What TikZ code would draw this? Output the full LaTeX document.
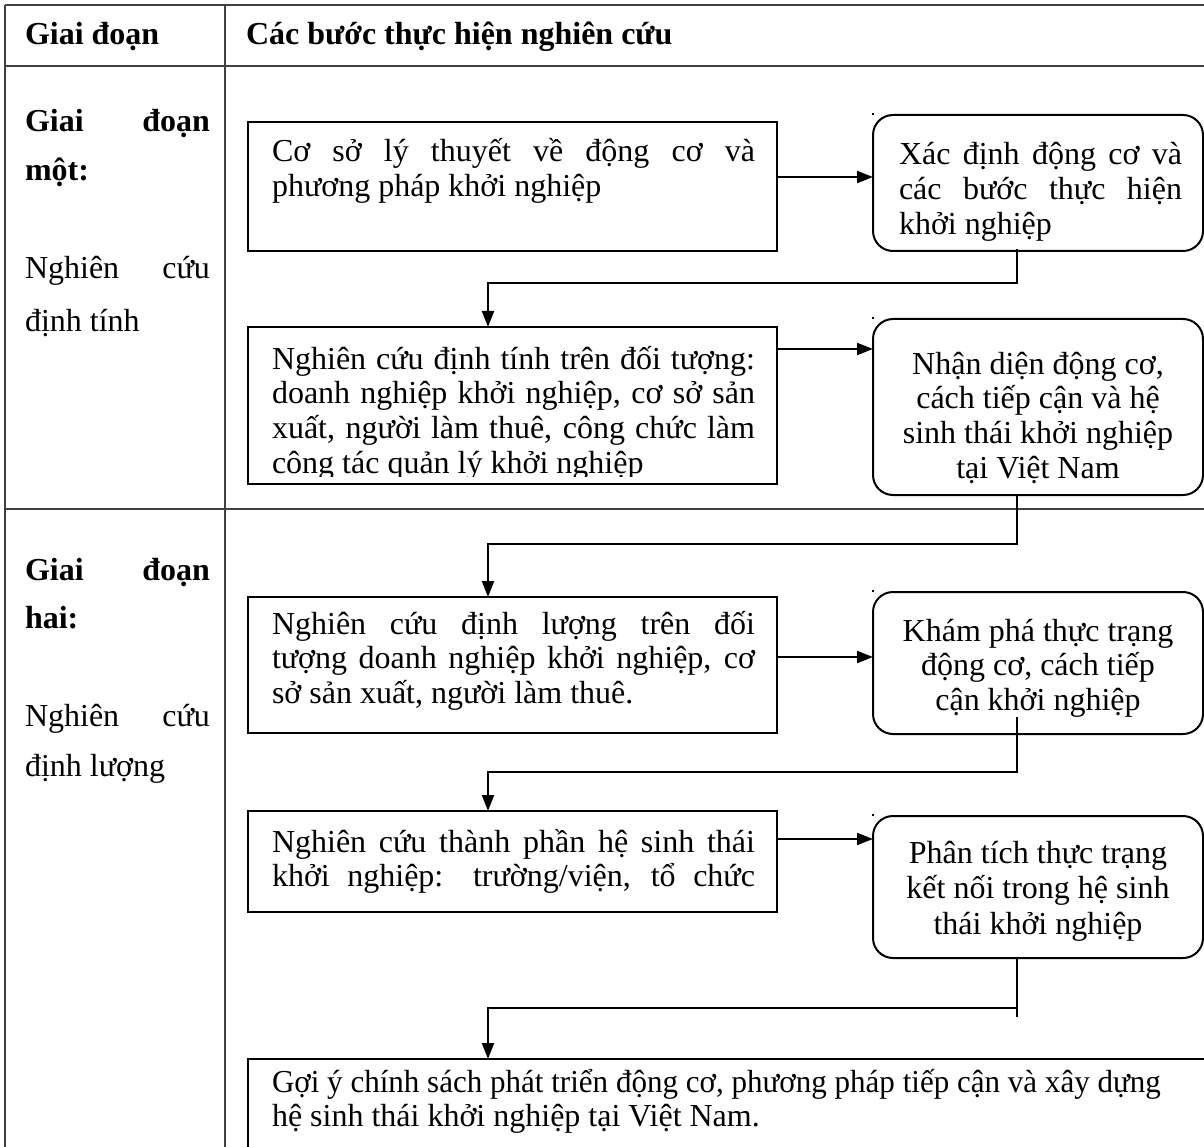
\documentclass[tikz,border=0pt]{standalone}
\usepackage{fontspec}
\usepackage{graphicx}
\setmainfont{Liberation Serif}
\usetikzlibrary{arrows.meta,calc}
% natural inter-word space of the text face
\newcommand\wsp{\spaceskip=8pt plus 4pt minus 2pt\relax\xspaceskip=0pt\relax}
% one justified line of a given width
\newcommand\jline[2]{{\spaceskip=8pt plus 80pt minus 2pt\relax\makebox[#1][s]{#2}}}
\begin{document}
\begin{tikzpicture}[x=1pt,y=-1pt,
  font=\fontsize{32}{34.8}\selectfont,
  grid/.style={line width=1.3pt, draw=black!75},
  box/.style={draw, line width=2pt, inner sep=0pt, outer sep=0pt, anchor=north west},
  rbox/.style={box, rounded corners=20pt},
  txt/.style={inner sep=0pt, outer sep=0pt, anchor=base west},
  ctxt/.style={inner sep=0pt, outer sep=0pt, anchor=base, text width=320pt},
  conn/.style={line width=2pt, -{Triangle[length=16pt,width=12pt]}},
  wire/.style={line width=2pt}]
\useasboundingbox (0,0) rectangle (1204,1147);
\clip (0,0) rectangle (1204,1147);
\fill[white] (0,0) rectangle (1204,1147);

% table frame
\draw[grid] (5,5) -- (1210,5);
\draw[grid] (5,66) -- (1210,66);
\draw[grid] (5,509) -- (1210,509);
\draw[grid] (5,5) -- (5,1160);
\draw[grid] (225,5) -- (225,1160);

% header
\node[txt] (hstage) at (25,45) {\wsp\bfseries Giai đoạn};
\node[txt] (hsteps) at (246,45) {\wsp\bfseries Các bước thực hiện nghiên cứu};

% stage labels
\node[txt, text width=185pt] (s1) at (25,132) {\wsp\jline{185pt}{\bfseries Giai đoạn}\\[14pt]\bfseries một:};
\node[txt, text width=185pt] (s1m) at (25,279) {\wsp\jline{185pt}{Nghiên cứu}\\[18pt]định tính};
\node[txt, text width=185pt] (s2) at (25,580) {\wsp\jline{185pt}{\bfseries Giai đoạn}\\[14pt]\bfseries hai:};
\node[txt, text width=185pt] (s2m) at (25,726) {\wsp\jline{185pt}{Nghiên cứu}\\[16pt]định lượng};

% flow boxes
\node[box, minimum width=529pt, minimum height=129pt] (A) at (248,122) {};
\node[rbox, minimum width=330pt, minimum height=136pt] (B) at (873,115) {};
\node[box, minimum width=529pt, minimum height=157pt] (C) at (248,327) {};
\node[rbox, minimum width=330pt, minimum height=176pt] (D) at (873,319) {};
\node[box, minimum width=529pt, minimum height=136pt] (E) at (248,597) {};
\node[rbox, minimum width=330pt, minimum height=142pt] (F) at (873,592) {};
\node[box, minimum width=529pt, minimum height=101pt] (G) at (248,811) {};
\node[rbox, minimum width=330pt, minimum height=142pt] (H) at (873,816) {};
\node[box, minimum width=980pt, minimum height=120pt] (I) at (248,1059) {};

% small marks at the corners of the rounded boxes
\foreach \yy in {115,319,592,816} \fill (872,\yy-2) rectangle ++(2,2);

% box texts
\node[txt, text width=483pt] (At) at (272,162)
  {\wsp\jline{483pt}{Cơ sở lý thuyết về động cơ và}\\phương pháp khởi nghiệp};
\node[txt, text width=283pt] (Bt) at (899,165)
  {\wsp\jline{283pt}{Xác định động cơ và}\\\jline{283pt}{các bước thực hiện}\\khởi nghiệp};
\begin{scope}
  \clip (250,329) rectangle (775,476);
  \node[txt, text width=483pt] (Ct) at (272,369)
    {\wsp\jline{483pt}{Nghiên cứu định tính trên đối tượng:}\\
     \jline{483pt}{doanh nghiệp khởi nghiệp, cơ sở sản}\\
     \jline{483pt}{xuất, người làm thuê, công chức làm}\\
     công tác quản lý khởi nghiệp};
\end{scope}
\node[ctxt] (Dt) at (1038,374)
  {\wsp\centering Nhận diện động cơ,\\cách tiếp cận và hệ\\sinh thái khởi nghiệp\\tại Việt Nam\par};
\node[txt, text width=483pt] (Et) at (272,634)
  {\wsp\jline{483pt}{Nghiên cứu định lượng trên đối}\\
   \jline{483pt}{tượng doanh nghiệp khởi nghiệp, cơ}\\
   sở sản xuất, người làm thuê.};
\node[ctxt] (Ft) at (1038,641)
  {\wsp\centering Khám phá thực trạng\\động cơ, cách tiếp\\cận khởi nghiệp\par};
\node[txt, text width=483pt] (Gt) at (272,852)
  {\wsp\jline{483pt}{Nghiên cứu thành phần hệ sinh thái}\\
   \jline{483pt}{khởi nghiệp: trường/viện, tổ chức}};
\node[ctxt] (Ht) at (1038,863)
  {\wsp\centering Phân tích thực trạng\\[1pt]kết nối trong hệ sinh\\[1pt]thái khởi nghiệp\par};
\node[txt, text width=930pt] (It) at (272,1092)
  {\wsp\scalebox{0.97}[1]{Gợi ý chính sách phát triển động cơ, phương pháp tiếp cận và xây dựng}\\
   hệ sinh thái khởi nghiệp tại Việt Nam.};

% connectors
\coordinate (jx) at (1017,0);
\coordinate (ax) at (488,0);
\draw[conn] (A.east |- 0,177) -- (B.west |- 0,177);
\draw[conn] (C.east |- 0,349) -- (D.west |- 0,349);
\draw[conn] (E.east |- 0,657) -- (F.west |- 0,657);
\draw[conn] (G.east |- 0,839) -- (H.west |- 0,839);

\draw[conn] ($(B.south -| jx)+(0,-2)$) -- ++(0,34) -| (C.north -| ax);
\draw[conn] (D.south -| jx) -- ++(0,49) -| (E.north -| ax);
\draw[conn] ($(F.south -| jx)+(0,-17)$) -- ++(0,55) -| (G.north -| ax);
\draw[wire] (H.south -| jx) -- ++(0,59);
\draw[conn] ($(H.south -| jx)+(0,50)$) -| (I.north -| ax);
\end{tikzpicture}
\end{document}
